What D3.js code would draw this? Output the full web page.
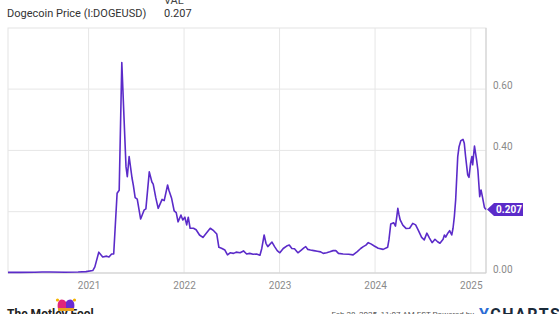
<!DOCTYPE html>
<html>
<head>
<meta charset="utf-8">
<script src="https://cdn.jsdelivr.net/npm/d3@7"></script>
<style>
  body { margin: 0; background: #fff; }
  svg { display: block; font-family: Roboto, "Liberation Sans", sans-serif; }
</style>
</head>
<body>
<div id="chart"></div>
<script>
// 价格数据 (日期, 收盘价)
const dates = [
  "2020-02-28","2020-04-14","2020-06-10","2020-07-07","2020-08-06","2020-10-03","2020-11-22","2020-12-22",
  "2021-01-17","2021-01-25","2021-02-09","2021-02-24","2021-03-11","2021-03-20","2021-03-30","2021-04-07",
  "2021-04-20","2021-04-28","2021-05-08","2021-05-16","2021-05-24","2021-05-29","2021-06-05","2021-06-16",
  "2021-06-21","2021-06-28","2021-07-06","2021-07-19","2021-08-01","2021-08-08","2021-08-21","2021-08-31",
  "2021-09-05","2021-09-15","2021-09-24","2021-10-09","2021-10-17","2021-10-30","2021-11-04","2021-11-14",
  "2021-11-24","2021-12-02","2021-12-09","2021-12-20","2021-12-27","2022-01-04","2022-01-11","2022-01-17",
  "2022-01-24","2022-02-06","2022-02-16","2022-03-01","2022-03-14","2022-03-26","2022-04-11","2022-04-24",
  "2022-05-06","2022-05-14","2022-05-24","2022-06-06","2022-06-16","2022-06-26","2022-07-09","2022-07-19",
  "2022-08-03","2022-08-16","2022-08-28","2022-09-09","2022-09-22","2022-10-05","2022-10-18","2022-10-25",
  "2022-11-03","2022-11-10","2022-11-17","2022-12-03","2022-12-13","2022-12-23","2023-01-02","2023-01-15",
  "2023-01-28","2023-02-07","2023-02-17","2023-02-27","2023-03-12","2023-03-25","2023-04-04","2023-04-11",
  "2023-04-19","2023-04-29","2023-05-12","2023-05-25","2023-06-07","2023-06-17","2023-06-30","2023-07-12",
  "2023-07-25","2023-08-04","2023-08-14","2023-09-01","2023-09-22","2023-10-09","2023-10-25","2023-11-07",
  "2023-11-17","2023-11-27","2023-12-06","2023-12-16","2023-12-29","2024-01-13","2024-02-01","2024-02-18",
  "2024-02-23","2024-03-01","2024-03-12","2024-03-19","2024-03-24","2024-03-28","2024-04-01","2024-04-06",
  "2024-04-16","2024-04-29","2024-05-12","2024-05-24","2024-06-04","2024-06-14","2024-06-27","2024-07-07",
  "2024-07-17","2024-07-27","2024-08-06","2024-08-17","2024-08-27","2024-09-05","2024-09-17","2024-09-22",
  "2024-09-27","2024-10-05","2024-10-12","2024-10-20","2024-10-25","2024-10-30","2024-11-04","2024-11-12",
  "2024-11-17","2024-11-24","2024-12-02","2024-12-07","2024-12-12","2024-12-20","2024-12-25","2024-12-31",
  "2025-01-05","2025-01-08","2025-01-15","2025-01-23","2025-01-28","2025-02-04","2025-02-09","2025-02-14",
  "2025-02-22","2025-02-28"
]
const prices = [
  0.0022,0.0020,0.0025,0.0033,0.0032,0.0026,0.0033,0.0045,
  0.008,0.02,0.068,0.052,0.055,0.052,0.062,0.062,
  0.26,0.27,0.687,0.515,0.347,0.314,0.38,0.31,
  0.287,0.246,0.241,0.176,0.205,0.209,0.33,0.297,
  0.29,0.245,0.211,0.24,0.236,0.287,0.27,0.245,
  0.203,0.197,0.167,0.189,0.173,0.182,0.157,0.182,
  0.146,0.146,0.141,0.124,0.116,0.129,0.146,0.138,
  0.127,0.084,0.081,0.075,0.059,0.066,0.064,0.068,
  0.066,0.072,0.062,0.064,0.061,0.062,0.058,0.08,
  0.124,0.097,0.086,0.101,0.086,0.073,0.066,0.08,
  0.088,0.091,0.08,0.079,0.066,0.075,0.082,0.086,
  0.077,0.075,0.073,0.071,0.069,0.064,0.066,0.069,
  0.073,0.073,0.064,0.062,0.061,0.059,0.07,0.08,
  0.086,0.091,0.099,0.095,0.088,0.081,0.077,0.084,
  0.108,0.16,0.164,0.153,0.184,0.211,0.192,0.173,
  0.156,0.145,0.146,0.162,0.157,0.14,0.116,0.108,
  0.13,0.114,0.099,0.11,0.102,0.097,0.11,0.124,
  0.117,0.13,0.138,0.124,0.146,0.184,0.238,0.38,
  0.412,0.432,0.436,0.423,0.38,0.32,0.312,0.358,
  0.38,0.353,0.414,0.369,0.336,0.249,0.271,0.25,
  0.214,0.207
]
const yTicks = [0, 0.2, 0.4, 0.6]
const xTickYears = ["2021", "2022", "2023", "2024", "2025"]
const lastValue = "0.207"

const W = 559, H = 314
const margin = { top: 28, right: 73, bottom: 41, left: 8 }
const innerW = W - margin.left - margin.right
const innerH = H - margin.top - margin.bottom
const purple = "#5b2bc9"

const parse = d3.timeParse("%Y-%m-%d")
const data = dates.map((d, i) => ({ date: parse(d), value: prices[i] }))

const svg = d3.select("#chart").append("svg")
  .attr("width", W)
  .attr("height", H)

// 标题
svg.append("text").attr("x", 164).attr("y", 4).attr("font-size", 11).attr("fill", "#444").text("VAL")
svg.append("text").attr("x", 7).attr("y", 17).attr("font-size", 11).attr("fill", "#333")
  .text("Dogecoin Price (I:DOGEUSD)")
svg.append("text").attr("x", 164).attr("y", 17).attr("font-size", 11).attr("fill", "#333")
  .text(lastValue)

const g = svg.append("g").attr("transform", "translate(" + margin.left + "," + margin.top + ")")

const xScale = d3.scaleTime()
  .domain([parse("2020-02-28"), parse("2025-02-28")])
  .range([0, innerW])
const yScale = d3.scaleLinear().domain([0, 0.6]).range([innerH, innerH - 0.6 * 306.5])

// 网格
g.append("rect").attr("width", innerW).attr("height", innerH)
  .attr("fill", "none").attr("stroke", "#e4e4e4")
g.selectAll("line.hgrid").data(yTicks.slice(1)).join("line")
  .attr("class", "hgrid")
  .attr("x1", 0).attr("x2", innerW)
  .attr("y1", d => yScale(d)).attr("y2", d => yScale(d))
  .attr("stroke", "#e6e6e6")
g.selectAll("line.vgrid").data(xTickYears).join("line")
  .attr("class", "vgrid")
  .attr("x1", d => xScale(parse(d + "-01-01"))).attr("x2", d => xScale(parse(d + "-01-01")))
  .attr("y1", 0).attr("y2", innerH)
  .attr("stroke", "#e6e6e6")

// 轴线
g.append("line").attr("x1", innerW).attr("x2", innerW).attr("y1", 0).attr("y2", innerH)
  .attr("stroke", "#cfcfcf")
g.append("line").attr("x1", 0).attr("x2", innerW).attr("y1", innerH).attr("y2", innerH)
  .attr("stroke", "#cfcfcf")

const last = data[data.length - 1]
const ly = yScale(last.value)

// Y 轴 (被最新值标签挡住的刻度不显示)
const yAxis = d3.axisRight(yScale)
  .tickValues(yTicks.filter(t => Math.abs(yScale(t) - ly) > 10))
  .tickFormat(d3.format(".2f")).tickSize(0)
const yG = g.append("g").attr("transform", "translate(" + (innerW + 4) + ",0)").call(yAxis)
yG.select(".domain").remove()
yG.selectAll("text").attr("font-size", 10).attr("fill", "#8a8a8a")
  .attr("font-family", "Roboto, sans-serif").attr("dy", "-0.05em")

// X 轴
const xAxis = d3.axisBottom(xScale)
  .tickValues(xTickYears.map(d => parse(d + "-01-01")))
  .tickFormat(d3.timeFormat("%Y")).tickSize(0)
const xG = g.append("g").attr("transform", "translate(0," + innerH + ")").call(xAxis)
xG.select(".domain").remove()
xG.selectAll("text").attr("font-size", 10).attr("fill", "#8a8a8a")
  .attr("font-family", "Roboto, sans-serif").attr("dy", "1.25em")

// 价格线
const line = d3.line().x(d => xScale(d.date)).y(d => yScale(d.value))
g.append("path").datum(data)
  .attr("d", line)
  .attr("fill", "none")
  .attr("stroke", purple)
  .attr("stroke-width", 1.6)
  .attr("stroke-linejoin", "round")

// 最新值标签
const lx = innerW + 1
g.append("path")
  .attr("d", "M" + lx + "," + ly + "l7,-6.5h29v13h-29z")
  .attr("fill", purple)
g.append("text").attr("x", lx + 22).attr("y", ly).attr("dy", "0.35em")
  .attr("text-anchor", "middle").attr("font-size", 10).attr("font-weight", "bold")
  .attr("fill", "#fff").text(lastValue)

// 页脚
svg.append("text").attr("x", 7).attr("y", 318).attr("font-size", 12).attr("font-weight", "bold")
  .attr("fill", "#222").text("The Motley Fool")
const hat = svg.append("g").attr("transform", "translate(56,296)")
hat.append("path").attr("d", "M2,13 C0,4 6,1 10,6 L10,13 Z").attr("fill", "#e0257a")
hat.append("path").attr("d", "M10,6 C14,1 20,4 18,13 L10,13 Z").attr("fill", "#6a2bd1")
hat.append("circle").attr("cx", 1.5).attr("cy", 4).attr("r", 1.6).attr("fill", "#f4b400")
hat.append("circle").attr("cx", 18.5).attr("cy", 4).attr("r", 1.6).attr("fill", "#f4b400")
hat.append("rect").attr("x", 2).attr("y", 12).attr("width", 16).attr("height", 3).attr("fill", "#e8a020")

svg.append("text").attr("x", 474).attr("y", 317).attr("text-anchor", "end")
  .attr("font-size", 8).attr("fill", "#555").text("Feb 28, 2025, 11:07 AM EST  Powered by")
const yc = svg.append("text").attr("x", 479).attr("y", 320).attr("font-size", 16)
  .attr("font-weight", "bold").attr("letter-spacing", "1.5")
yc.append("tspan").attr("fill", "#2b6cd4").text("Y")
yc.append("tspan").attr("fill", "#1a2a3a").text("CHARTS")
</script>
</body>
</html>
